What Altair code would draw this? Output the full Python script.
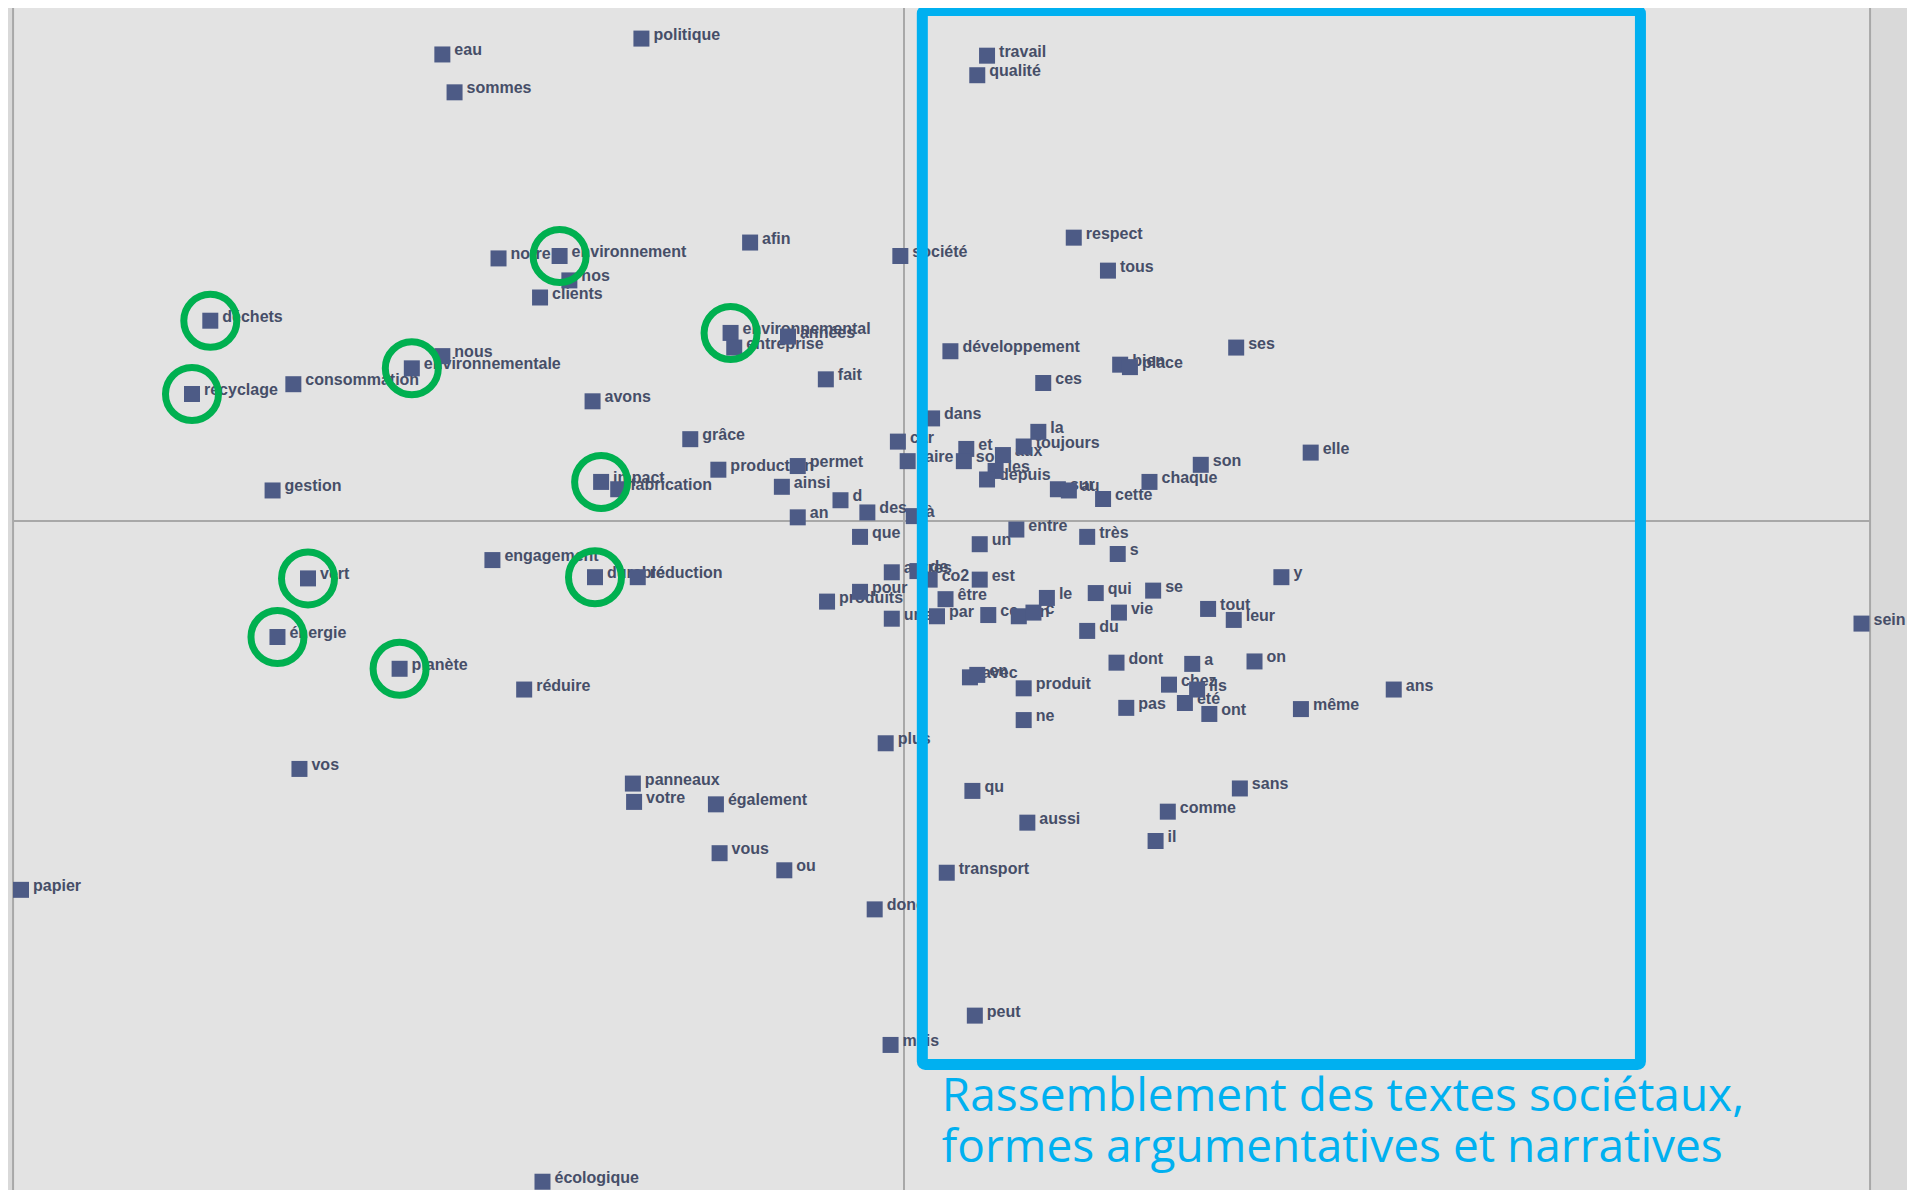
import altair as alt
import pandas as pd

# ---------------- data: word coordinates on the two factorial axes ----------------
mots = [
    "eau", "sommes", "politique", "travail", "qualité", "respect", "tous",
    "notre", "environnement", "nos", "clients", "afin", "société",
    "déchets", "recyclage", "consommation", "nous", "environnementale", "avons",
    "environnemental", "entreprise", "années", "fait", "développement", "ces",
    "bien", "place", "ses", "grâce", "production", "permet", "ainsi", "impact",
    "fabrication", "gestion", "d", "des", "an", "à", "que", "dans", "car",
    "faire", "et", "sont", "aux", "toujours", "la", "les", "depuis", "sur",
    "au", "cette", "chaque", "son", "elle", "entre", "un", "très", "s",
    "autres", "de", "co2", "est", "pour", "produits", "être", "une", "par",
    "ce", "en", "c", "le", "qui", "se", "vie", "du", "tout", "leur", "y",
    "dont", "a", "on", "chez", "ils", "été", "pas", "ont", "même", "ans",
    "sein", "avec", "en ", "produit", "ne", "plus", "qu", "aussi", "comme",
    "il", "sans", "transport", "donc", "peut", "mais", "vert", "énergie",
    "planète", "engagement", "durable", "réduction", "réduire", "vos",
    "panneaux", "votre", "également", "vous", "ou", "papier", "écologique",
]
axe1 = [
    -378, -368, -215, 68, 60, 139, 167,
    -332, -282, -274, -298, -126, -3,
    -568, -583, -500, -378, -403, -255,
    -142, -139, -95, -64, 38, 114,
    177, 185, 272, -175, -152, -87, -100, -248,
    -234, -517, -52, -30, -87, 8, -36, 23, -5,
    3, 51, 49, 81, 98, 110, 75, 68, 126,
    135, 163, 201, 243, 333, 92, 62, 150, 175,
    -10, 11, 21, 62, -36, -63, 34, -10, 27,
    69, 94, 106, 117, 157, 204, 176, 150, 249, 270, 309,
    174, 236, 287, 217, 240, 230, 182, 250, 325, 401,
    784, 54, 60, 98, 98, -15, 56, 101, 216,
    206, 275, 35, -24, 58, -11, -488, -513,
    -413, -337, -253, -218, -311, -495,
    -222, -221, -154, -151, -98, -723, -296,
]
axe2 = [
    382, 351, 395, 381, 365, 232, 205,
    215, 217, 197, 183, 228, 217,
    164, 104, 112, 135, 125, 98,
    154, 142, 151, 116, 139, 113,
    128, 126, 142, 67, 42, 45, 28, 32,
    26, 25, 17, 7, 3, 4, -13, 84, 65,
    49, 59, 49, 54, 61, 73, 41, 34, 26,
    25, 18, 32, 46, 56, -7, -19, -13, -27,
    -42, -41, -48, -48, -58, -66, -64, -80, -78,
    -77, -78, -75, -63, -59, -57, -75, -90, -72, -81, -46,
    -116, -117, -115, -134, -138, -149, -153, -158, -154, -138,
    -84, -128, -126, -137, -163, -182, -221, -247, -238,
    -262, -219, -288, -318, -405, -429, -47, -95,
    -121, -32, -46, -46, -138, -203,
    -215, -230, -232, -272, -286, -302, -541,
]
entoures = ["environnement", "déchets", "recyclage", "environnementale",
            "environnemental", "impact", "vert", "énergie", "planète", "durable"]
annotation = ["Rassemblement des textes sociétaux,",
              "formes argumentatives et narratives"]

# ---------------- layout ----------------
U = 1915 / 1568          # screen px per unit
W, H = 1899, 1182
OX, OY = 896, 513        # chart px of the origin
xdom = [-OX / U, (W - OX) / U]
ydom = [-(H - OY) / U, OY / U]
LEFT_B, RIGHT_B = -729.5, 791.0
X = lambda f: alt.X(f, type="quantitative", scale=alt.Scale(domain=xdom, nice=False, zero=False), axis=None)
Y = lambda f: alt.Y(f, type="quantitative", scale=alt.Scale(domain=ydom, nice=False, zero=False), axis=None)

df = pd.DataFrame({"mot": [m.strip() for m in mots], "d1": axe1, "d2": axe2})
circ = df[df["mot"].isin(entoures)]

LABEL_FONT = "Liberation Sans"

strips = alt.Chart(pd.DataFrame({"a": [xdom[0], RIGHT_B], "b": [LEFT_B, xdom[1]]})).mark_rect(
    color="#d9d9d9").encode(x=X("a"), x2="b", y=alt.value(0), y2=alt.value(H))

vlines = alt.Chart(pd.DataFrame({"d1": [LEFT_B, 0.0, RIGHT_B]})).mark_rule(
    color="#a8a8a8", strokeWidth=2).encode(x=X("d1"), y=alt.value(0), y2=alt.value(H))
hline = alt.Chart(pd.DataFrame({"a": [LEFT_B], "b": [RIGHT_B], "d2": [0.0]})).mark_rule(
    color="#a8a8a8", strokeWidth=2).encode(x=X("a"), x2="b", y=Y("d2"))

labels = alt.Chart(df).mark_text(
    align="left", baseline="alphabetic", dx=12, dy=1, font=LABEL_FONT,
    fontSize=16, fontWeight="bold", color="#464e68").encode(x=X("d1"), y=Y("d2"), text="mot")
squares = alt.Chart(df).mark_square(size=256, opacity=1, color="#4d5b86").encode(x=X("d1"), y=Y("d2"))
circles = alt.Chart(circ).mark_point(shape="circle", size=2809, filled=False, strokeWidth=7,
                                     color="#00b050", opacity=1).encode(x=X("d1"), y=Y("d2"))

box = alt.Chart(pd.DataFrame({"a": [15.0], "b": [603.0], "c": [418.0], "d": [-445.0]})).mark_rect(
    fill=None, filled=False, stroke="#00b0f0", strokeWidth=11, cornerRadius=3).encode(
    x=X("a"), x2="b", y=Y("c"), y2="d")

note = alt.Chart(pd.DataFrame({"t": annotation, "d1": [31.0, 31.0], "d2": [-472.0, -513.0]})).mark_text(
    align="left", baseline="middle", font="Open Sans", fontSize=46, color="#00b0f0").encode(
    x=X("d1"), y=Y("d2"), text="t")

chart = alt.layer(strips, vlines, hline, labels, squares, circles, box, note).properties(
    width=W, height=H, autosize=alt.AutoSizeParams(type="none"), padding=0, background="#e3e3e3"
).configure_view(stroke=None, fill="#e3e3e3")

chart.save("out.html", embed_options={"renderer": "svg", "actions": False})
